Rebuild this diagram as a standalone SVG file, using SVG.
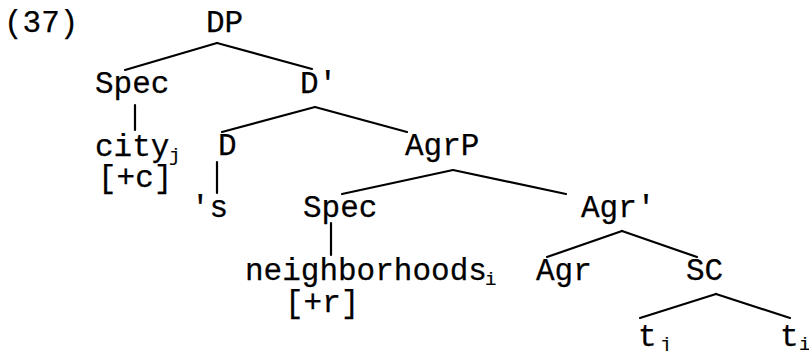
<svg xmlns="http://www.w3.org/2000/svg" width="809" height="351" viewBox="0 0 809 351">
<style>
text{font-family:"Liberation Mono","Courier New",monospace;font-size:31px;fill:#000;stroke:#000;stroke-width:0.25}
.sub{font-size:19px;stroke-width:0.2}
.e line{stroke:#000;stroke-width:2.2;stroke-linecap:round}
</style>
<rect width="809" height="351" fill="#fff"/>
<text id="label" x="4" y="32">(37)</text>
<g id="DP"><text x="206" y="32">DP</text></g>
<g id="Spec1"><text x="95" y="93">Spec</text></g>
<g id="Dbar"><text x="300" y="93">D'</text></g>
<g id="city"><text x="95" y="156">city</text><text class="sub" x="169" y="161">j</text><text x="98" y="187">[+c]</text></g>
<g id="D"><text x="218" y="155">D</text></g>
<g id="s"><text x="191" y="217">'s</text></g>
<g id="AgrP"><text x="405" y="155">AgrP</text></g>
<g id="Spec2"><text x="303" y="217">Spec</text></g>
<g id="Agrbar"><text x="581" y="217">Agr'</text></g>
<g id="neigh"><text x="245" y="280">neighborhoods</text><text class="sub" x="485" y="285">i</text><text x="285" y="312">[+r]</text></g>
<g id="Agr"><text x="536" y="280">Agr</text></g>
<g id="SC"><text x="686" y="280">SC</text></g>
<g id="tj"><text x="638" y="346">t</text><text class="sub" x="660" y="350">j</text></g>
<g id="ti"><text x="780" y="346">t</text><text class="sub" x="799" y="350">i</text></g>
<g id="edges" class="e">
<line x1="217" y1="43" x2="125" y2="70"/>
<line x1="217" y1="43" x2="312" y2="69"/>
<line x1="135" y1="105" x2="135" y2="130"/>
<line x1="315" y1="107" x2="222" y2="132"/>
<line x1="315" y1="107" x2="407" y2="132"/>
<line x1="217" y1="162" x2="217" y2="193"/>
<line x1="453" y1="170" x2="342" y2="194"/>
<line x1="453" y1="170" x2="566" y2="194"/>
<line x1="331" y1="223" x2="331" y2="255"/>
<line x1="622" y1="231" x2="547" y2="257"/>
<line x1="622" y1="231" x2="697" y2="257"/>
<line x1="716" y1="294" x2="640" y2="318"/>
<line x1="716" y1="294" x2="790" y2="318"/>
</g>
</svg>
